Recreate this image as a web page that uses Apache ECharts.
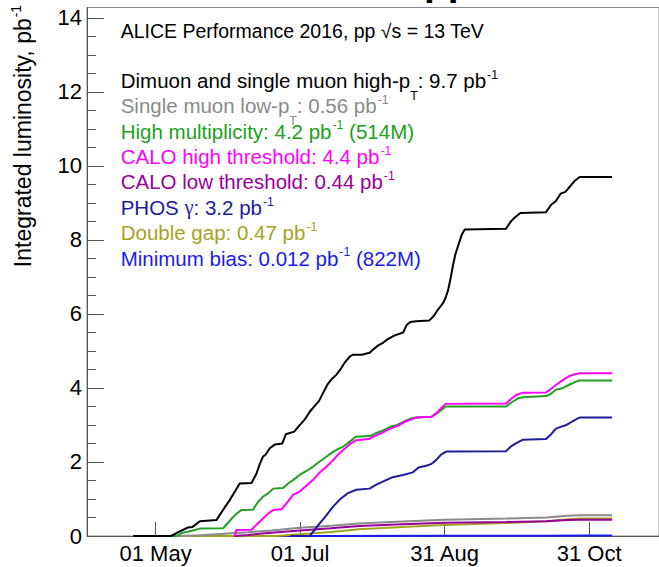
<!DOCTYPE html>
<html>
<head>
<meta charset="utf-8">
<script src="https://cdn.jsdelivr.net/npm/echarts@6/dist/echarts.min.js"></script>
<style>
  html, body { margin: 0; padding: 0; background: #fff; }
  #chart { width: 659px; height: 567px; }
</style>
</head>
<body>
<div id="chart"></div>
<script>
// x values are days of 2016 counted from 1 January (= 0)
const tickDays = [121, 182, 243, 304];
const tickLabels = ['01 May', '01 Jul', '31 Aug', '31 Oct'];
const yLabelValues = [0, 2, 4, 6, 8, 10, 12, 14];
const yMinorValues = [0.5, 1, 1.5, 2.5, 3, 3.5, 4.5, 5, 5.5, 6.5, 7, 7.5, 8.5, 9, 9.5, 10.5, 11, 11.5, 12.5, 13, 13.5];

const triggerNames = [
  'Dimuon and single muon high-p',
  'Single muon low-p',
  'High multiplicity',
  'CALO high threshold',
  'CALO low threshold',
  'PHOS ',
  'Double gap',
  'Minimum bias'
];
// integrated luminosity at the end of the run, pb^-1
const totals = [9.7, 0.56, 4.2, 4.4, 0.44, 3.2, 0.47, 0.012];
const eventCounts = ['', '', '514M', '', '', '', '', '822M'];
const lineColors = ['#000000', '#8a8a8a', '#22a022', '#ff00ff', '#990099', '#1c1c9c', '#a3a31f', '#1a1aee'];

// cumulative luminosity [day, pb^-1] up to the final plateau
const dimuon = [[111.6,0],[127.5,0],[131,0.12],[134.7,0.23],[136.5,0.24],[139.7,0.4],[146.7,0.43],[148.1,0.57],[150.5,0.8],[152.3,0.97],[154.5,1.2],[156.5,1.42],[161.5,1.43],[163.6,1.69],[165,1.95],[166.3,2.14],[167.5,2.2],[169.2,2.37],[171.3,2.47],[174.5,2.5],[176,2.75],[179.5,2.82],[181.2,2.95],[184,3.15],[186,3.35],[188,3.5],[190,3.65],[192,3.9],[193.6,4.1],[195.5,4.25],[197.2,4.35],[199,4.5],[201,4.7],[203,4.85],[204.3,4.9],[208,4.9],[211.4,4.95],[213,5.05],[215,5.15],[217,5.22],[219,5.32],[222,5.42],[225.5,5.5],[227,5.7],[228.5,5.78],[231,5.8],[236.5,5.82],[238.5,5.95],[240,6.1],[242.4,6.3],[243.5,6.45],[244.5,6.65],[245.5,6.95],[246.5,7.3],[247.5,7.6],[249,7.9],[250.3,8.15],[251.5,8.28],[268.9,8.3],[271,8.5],[272.5,8.6],[275,8.73],[285.8,8.75],[288,8.95],[290,9.05],[292,9.25],[294,9.3],[296,9.45],[298,9.6]];
const singleMuonLow = [[111.6,0],[130,0],[140,0.02],[150,0.06],[160,0.1],[170,0.15],[182,0.22],[195,0.28],[207,0.34],[225,0.39],[243,0.44],[269,0.47],[286,0.5],[295,0.55]];
const highMult = [[111.6,0],[129.8,0],[132,0.08],[135,0.12],[139.7,0.2],[149.5,0.21],[151.5,0.35],[153.5,0.5],[155.5,0.62],[157.2,0.7],[162.1,0.71],[164,0.9],[166.3,1.06],[168.5,1.15],[170.6,1.28],[174.8,1.3],[177,1.42],[179,1.51],[181.8,1.65],[184.5,1.75],[187.4,1.87],[190,2.0],[193.1,2.14],[196,2.28],[198,2.35],[200.1,2.41],[203,2.55],[205.5,2.68],[211.5,2.7],[214,2.78],[217,2.85],[220,2.95],[223,3.0],[226,3.1],[229,3.18],[231,3.2],[237.5,3.22],[239.5,3.3],[241.5,3.4],[243.5,3.5],[269,3.5],[271,3.6],[274,3.72],[276,3.75],[285.8,3.78],[288,3.85],[290,3.95],[293,4.0],[296,4.1],[298.5,4.17]];
const caloHigh = [[154.5,0],[155,0.16],[161.5,0.17],[163.5,0.3],[165.7,0.43],[168,0.58],[170.6,0.7],[174.1,0.72],[176.5,0.9],[179,1.11],[181.8,1.2],[184.5,1.35],[187.4,1.51],[190,1.7],[193.1,1.87],[196,2.05],[198,2.2],[200.1,2.32],[203,2.48],[205.7,2.59],[211,2.62],[214,2.72],[217,2.8],[220,2.9],[223,2.97],[226,3.08],[229,3.15],[231,3.2],[237.5,3.22],[239.5,3.32],[241.5,3.45],[243.5,3.57],[269,3.58],[271,3.7],[273.5,3.82],[276,3.87],[285.8,3.88],[288,3.98],[290,4.08],[292,4.17],[294,4.26],[296,4.33],[298.5,4.38]];
const caloLow = [[154,0],[160,0.03],[170,0.09],[182,0.15],[195,0.21],[207,0.27],[225,0.32],[243,0.36],[269,0.38],[286,0.4],[295,0.43]];
const phos = [[178,0],[186,0],[188,0.15],[190,0.32],[193,0.55],[196,0.8],[199,1.0],[202,1.15],[205.7,1.25],[211.3,1.28],[214,1.38],[216.9,1.47],[219,1.53],[221.1,1.59],[225.4,1.65],[229.6,1.72],[232,1.85],[235.2,1.9],[237.5,1.95],[239.4,2.05],[241.5,2.2],[243.6,2.28],[268.9,2.29],[271,2.42],[273.1,2.5],[275.9,2.6],[285.8,2.62],[288,2.75],[290,2.9],[292,2.95],[294.5,3.0],[297,3.1],[299,3.17]];
const doubleGap = [[111.6,0],[172,0],[182,0.05],[195,0.11],[207,0.18],[225,0.24],[243,0.3],[269,0.35],[286,0.4],[295,0.45]];
const minBias = [[111.6,0],[186,0.002],[243,0.006],[286,0.01]];

const curves = [dimuon, singleMuonLow, highMult, caloHigh, caloLow, phos, doubleGap, minBias];
const plateauStart = 300;
const lastDay = 313.7;
const drawOrder = [7, 6, 4, 1, 5, 2, 3, 0];

const FONT = '"Liberation Sans", Arial, Helvetica, sans-serif';
const SERIF = '"Liberation Serif", "DejaVu Serif", serif';

// text measuring for the multi-part (sub/superscript) labels
const measureCtx = document.createElement('canvas').getContext('2d');
function textWidth(str, size, family, weight) {
  measureCtx.font = (weight || 'normal') + ' ' + size + 'px ' + family;
  return measureCtx.measureText(str).width;
}
// 'middle' anchored text: centre of the em box sits ~0.347em above the baseline
function textAt(str, x, baseline, size, color, family, weight) {
  return {
    type: 'text', x: x, y: baseline - 0.347 * size, silent: true,
    style: {
      text: str, fill: color, fontSize: size, fontFamily: family || FONT,
      fontWeight: weight || 'normal', align: 'left', verticalAlign: 'middle'
    }
  };
}
// parts: [text, kind] with kind '' | 'sup' | 'sub' | 'greek'
function layoutParts(parts, x0, baseline, size, color) {
  const els = [];
  let x = x0;
  const small = size * 0.6;
  parts.forEach(function (p) {
    const kind = p[1] || '';
    if (kind === 'sup') {
      els.push(textAt(p[0], x + 1, baseline - size * 0.42, small, color));
      x += textWidth(p[0], small, FONT) + 1;
    } else if (kind === 'sub') {
      els.push(textAt(p[0], x, baseline + size * 0.6, small, color));
      x += textWidth(p[0], small, FONT);
    } else if (kind === 'greek') {
      els.push(textAt(p[0], x, baseline, size, color, SERIF));
      x += textWidth(p[0], size, SERIF);
    } else {
      els.push(textAt(p[0], x, baseline, size, color));
      x += textWidth(p[0], size, FONT);
    }
  });
  return { els: els, width: x - x0 };
}

function legendParts(i) {
  const parts = [];
  if (i === 0 || i === 1) {
    parts.push([triggerNames[i]], ['T', 'sub']);
  } else if (i === 5) {
    parts.push([triggerNames[i]], ['\u03b3', 'greek']);
  } else {
    parts.push([triggerNames[i]]);
  }
  parts.push([': ' + totals[i] + ' pb'], ['-1', 'sup']);
  if (eventCounts[i]) parts.push([' (' + eventCounts[i] + ')']);
  return parts;
}

const LEG_SIZE = 20.5;
const graphics = [];
// partly hidden heading above the frame
graphics.push(textAt('pp', 424, -4.5, 39, '#000', FONT, 'bold'));
graphics.push(textAt('ALICE Performance 2016, pp \u221as = 13 TeV', 120.7, 37.5, 19.5, '#000'));
for (let i = 0; i < triggerNames.length; i++) {
  const res = layoutParts(legendParts(i), 120.7, 87.5 + 25.4 * i, LEG_SIZE, lineColors[i]);
  res.els.forEach(function (e) { graphics.push(e); });
}
// vertical axis title, read bottom to top
const TITLE_SIZE = 23;
const title = layoutParts([['Integrated luminosity, pb'], ['-1', 'sup']], 0, 0, TITLE_SIZE, '#000');
graphics.push({
  type: 'group', x: 31, y: 5 + title.width, rotation: Math.PI / 2, silent: true,
  children: title.els
});

const series = drawOrder.map(function (i) {
  return {
    type: 'line',
    name: triggerNames[i],
    data: curves[i].concat([[plateauStart, totals[i]], [lastDay, totals[i]]]),
    showSymbol: false,
    symbol: 'none',
    silent: true,
    lineStyle: { color: lineColors[i], width: 2 },
    itemStyle: { color: lineColors[i] }
  };
});

const AXIS_COLOR = '#555';
const chart = echarts.init(document.getElementById('chart'), null, { renderer: 'svg', width: 659, height: 567 });
chart.setOption({
  animation: false,
  backgroundColor: '#fff',
  grid: { left: 87, right: -1, top: 7.5, bottom: 31, show: true, borderColor: '#888', borderWidth: 1 },
  xAxis: {
    type: 'value', min: 92.05, max: 333.5,
    splitLine: { show: false },
    axisLine: { show: true, lineStyle: { color: AXIS_COLOR, width: 1 } },
    axisTick: { show: true, inside: true, length: 14, customValues: tickDays, lineStyle: { color: AXIS_COLOR } },
    axisLabel: {
      customValues: tickDays, margin: 6, fontSize: 22, color: '#000', fontFamily: FONT,
      formatter: function (v) { return tickLabels[tickDays.indexOf(v)]; }
    }
  },
  yAxis: [{
    type: 'value', min: 0, max: 14.28,
    splitLine: { show: false },
    axisLine: { show: true, lineStyle: { color: AXIS_COLOR, width: 1 } },
    axisTick: { show: true, inside: true, length: 17, customValues: yLabelValues, lineStyle: { color: AXIS_COLOR } },
    axisLabel: { customValues: yLabelValues, margin: 5, fontSize: 22, color: '#000', fontFamily: FONT }
  }, {
    type: 'value', min: 0, max: 14.28, position: 'left',
    splitLine: { show: false },
    axisLine: { show: false },
    axisTick: { show: true, inside: true, length: 9, customValues: yMinorValues, lineStyle: { color: AXIS_COLOR } },
    axisLabel: { show: false }
  }],
  graphic: graphics,
  series: series
});
</script>
</body>
</html>
